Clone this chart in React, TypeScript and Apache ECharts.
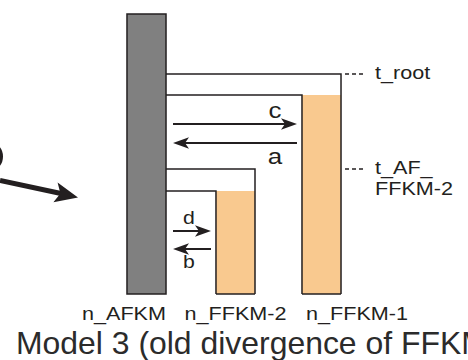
import React, { useEffect, useRef } from "react";
import * as echarts from "echarts";

// ---- data (axis units: x = column, y = time before present) ----
const populations = ["n_AFKM", "n_FFKM-2", "n_FFKM-1"];
const popColumn = [0, 1.017, 2];
const popTop = [2.8, 1.03, 1.99];
const popFill = ["#808080", "#f9c98f", "#f9c98f"];
const popLabelAlign = ["right", "center", "left"];

const splitPop = [2, 1];
const splitTime = [2.2, 1.25];
const splitLabels = [["t_root"], ["t_AF_", "FFKM-2"]];

const migLabels = ["c", "a", "d", "b"];
const migTarget = [2, 2, 1, 1];
const migTime = [1.7, 1.51, 0.63, 0.45];
const migDir = [1, -1, 1, -1];
const migFont = [22, 22, 18, 18];

const titleText = "Model 3 (old divergence of FFKM";

const FONT = '"Liberation Sans", Arial, Helvetica, sans-serif';
const INK = "#231f20";
const HW = 0.223;

function renderItem(params: any, api: any) {
  const c = (x: number, t: number) => api.coord([x, t]);
  const children: any[] = [];
  const lineStyle = { stroke: INK, lineWidth: 1.5, fill: null, lineJoin: "miter" };
  const outerX = Math.max(...popColumn) + HW;

  // fills
  for (let p = 1; p < populations.length; p++) {
    const tl = c(popColumn[p] - HW, popTop[p]);
    const br = c(popColumn[p] + HW, 0);
    children.push({
      type: "rect",
      shape: { x: tl[0], y: tl[1], width: br[0] - tl[0], height: br[1] - tl[1] },
      style: { fill: popFill[p] },
    });
  }
  {
    const tl = c(popColumn[0] - HW, popTop[0]);
    const br = c(popColumn[0] + HW, 0);
    children.push({
      type: "rect",
      shape: { x: tl[0], y: tl[1], width: br[0] - tl[0], height: br[1] - tl[1] },
      style: { fill: popFill[0], stroke: INK, lineWidth: 1.5 },
    });
  }
  const aRight = popColumn[0] + HW;

  // split boundaries
  splitPop.forEach((p, s) => {
    const t = splitTime[s];
    const col = popColumn[p];
    children.push({
      type: "polyline",
      shape: { points: [c(aRight, t), c(col + HW, t), c(col + HW, 0)] },
      style: lineStyle,
    });
    children.push({
      type: "polyline",
      shape: { points: [c(aRight, popTop[p]), c(col - HW, popTop[p]), c(col - HW, 0)] },
      style: lineStyle,
    });
    const b1 = c(col - HW, 0);
    const b2 = c(col + HW, 0);
    children.push({
      type: "line",
      shape: { x1: b1[0], y1: b1[1], x2: b2[0], y2: b2[1] },
      style: { stroke: INK, lineWidth: 1.5 },
    });
    const rp = c(outerX, t);
    children.push({
      type: "line",
      shape: { x1: rp[0] + 4, y1: rp[1], x2: rp[0] + 23, y2: rp[1] },
      style: { stroke: INK, lineWidth: 1.5, lineDash: [4, 3] },
    });
    splitLabels[s].forEach((txt, i) => {
      children.push({
        type: "text",
        x: rp[0] + 34,
        y: rp[1] - 1 + i * 21,
        scaleX: 1.2,
        style: {
          text: txt,
          fill: INK,
          font: `18px ${FONT}`,
          align: "left",
          verticalAlign: "middle",
        },
      });
    });
  });

  // migration arrows
  migLabels.forEach((lab, m) => {
    const tgt = popColumn[migTarget[m]];
    const y = c(0, migTime[m])[1];
    const s = c(aRight, 0)[0] + 7;
    const e = c(tgt - HW, 0)[0] - 5;
    const dir = migDir[m];
    const tip = dir > 0 ? e : s;
    const tail = dir > 0 ? s : e;
    const L = 16;
    const w = 5.8;
    children.push({
      type: "line",
      shape: { x1: tail, y1: y, x2: tip - dir * (L - 4), y2: y },
      style: { stroke: INK, lineWidth: 2 },
    });
    children.push({
      type: "polygon",
      shape: {
        points: [
          [tip, y],
          [tip - dir * L, y - w],
          [tip - dir * (L - 4), y],
          [tip - dir * L, y + w],
        ],
      },
      style: { fill: INK },
    });
    children.push({
      type: "text",
      x: e - 22,
      y: dir > 0 ? y - 13.5 : y + 13,
      scaleX: 1.18,
      style: {
        text: lab,
        fill: INK,
        font: `${migFont[m]}px ${FONT}`,
        align: "center",
        verticalAlign: "middle",
      },
    });
  });

  // population labels
  populations.forEach((name, p) => {
    const al = popLabelAlign[p];
    const xv =
      al === "right" ? popColumn[p] + HW : al === "left" ? popColumn[p] - HW : popColumn[p];
    const pt = c(xv, 0);
    children.push({
      type: "text",
      x: pt[0] + (al === "left" ? 4 : 0),
      y: pt[1] + 20,
      scaleX: 1.2,
      style: {
        text: name,
        fill: INK,
        font: `18px ${FONT}`,
        align: al,
        verticalAlign: "middle",
      },
    });
  });

  return { type: "group", children };
}

export default function App() {
  const ref = useRef<HTMLDivElement>(null);
  useEffect(() => {
    document.body.style.margin = "0";
    if (!ref.current) return;
    const chart = echarts.init(ref.current, null, { renderer: "svg" });
    chart.setOption({
      animation: false,
      backgroundColor: "#ffffff",
      grid: { left: 59, right: 59, top: 14, bottom: 66 },
      xAxis: { type: "value", min: -1, max: 3, show: false },
      yAxis: { type: "value", min: 0, max: 2.8, show: false },
      series: [
        {
          type: "custom",
          clip: false,
          silent: true,
          data: [[0, 0]],
          renderItem,
        },
      ],
      graphic: [
        {
          type: "circle",
          shape: { cx: -12, cy: 156.5, r: 13 },
          style: { fill: "none", stroke: INK, lineWidth: 4 },
        },
        {
          type: "line",
          shape: { x1: 0, y1: 180.5, x2: 61, y2: 193.5 },
          style: { stroke: INK, lineWidth: 5 },
        },
        {
          type: "polygon",
          shape: {
            points: [
              [78, 197.5],
              [57.6, 182.6],
              [60.4, 193.5],
              [53.4, 202.2],
            ],
          },
          style: { fill: INK },
        },
        {
          type: "text",
          x: 16,
          y: 344,
          scaleX: 1.03,
          style: {
            text: titleText,
            fill: "#2b2b2b",
            font: `31px ${FONT}`,
            align: "left",
            verticalAlign: "middle",
            textAlign: "left",
            textVerticalAlign: "middle",
          },
        },
      ],
    });
    return () => chart.dispose();
  }, []);
  return <div ref={ref} style={{ width: 468, height: 360 }} />;
}
